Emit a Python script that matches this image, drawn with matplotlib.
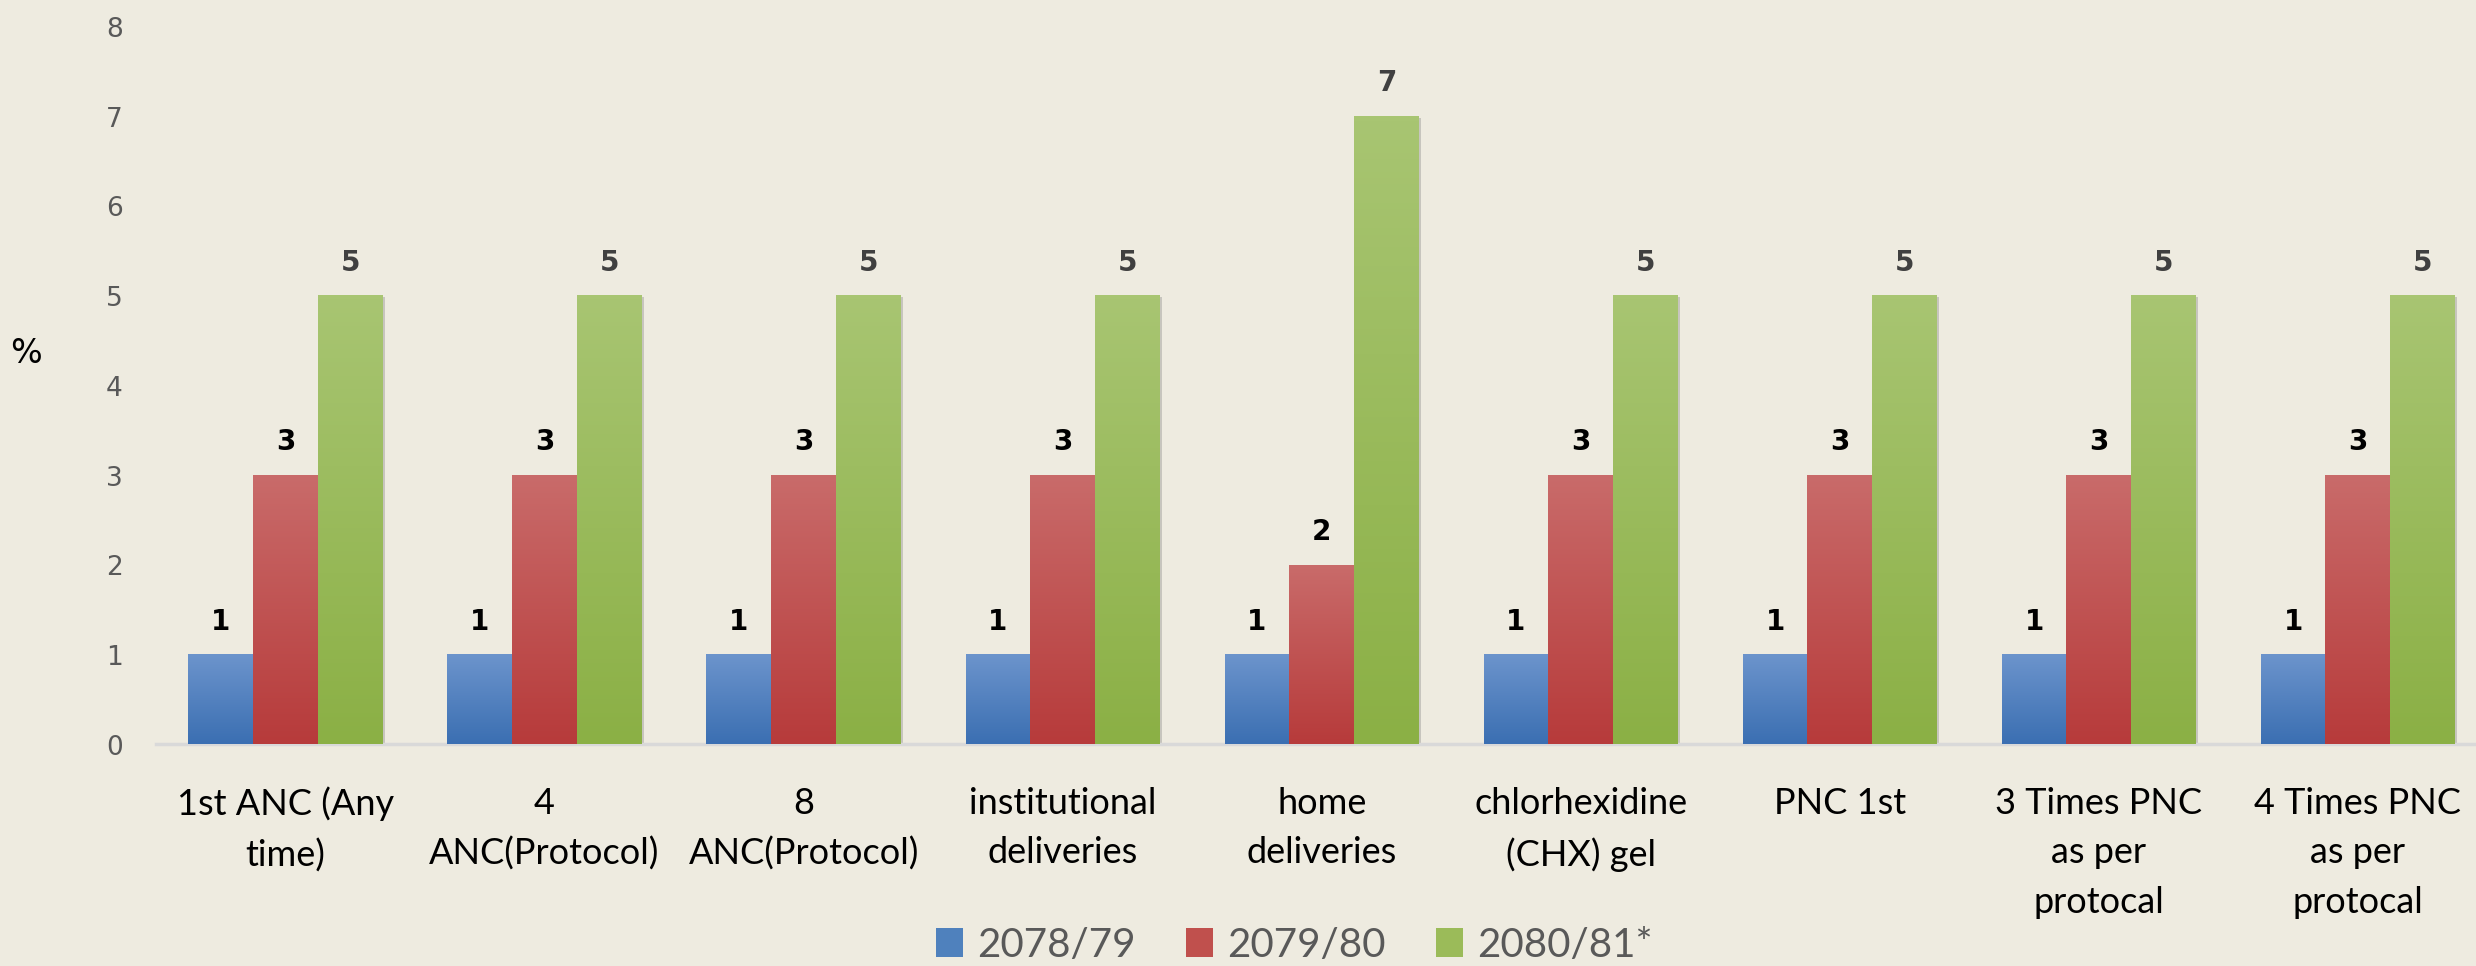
import numpy as np
import matplotlib
matplotlib.use('Agg')
import matplotlib.pyplot as plt
from matplotlib.patches import Patch
from matplotlib.colors import LinearSegmentedColormap
import matplotlib.patheffects as pe

# chart data
categories = ['1st ANC (Any\ntime)', '4\nANC(Protocol)', '8\nANC(Protocol)',
              'institutional\ndeliveries', 'home\ndeliveries', 'chlorhexidine\n(CHX) gel',
              'PNC 1st', '3 Times PNC\nas per\nprotocal', '4 Times PNC\nas per\nprotocal']
series_names = ['2078/79', '2079/80', '2080/81*']
vals_2078 = [1, 1, 1, 1, 1, 1, 1, 1, 1]
vals_2079 = [3, 3, 3, 3, 2, 3, 3, 3, 3]
vals_2080 = [5, 5, 5, 5, 7, 5, 5, 5, 5]

# (top, bottom) gradient colours per series
grads = [('#6C94CC', '#3B6FB2'), ('#C96B6A', '#B73B3B'), ('#A8C572', '#8BB045')]
mids = ['#4F81BD', '#C0504D', '#9BBB59']
label_cols = ['black', 'black', '#404040']
bg = '#EEEBE0'

W, H = 2476, 967
fig = plt.figure(figsize=(W / 100, 9.669), dpi=100, facecolor=bg)
ax = fig.add_axes([156 / W, 1 - 745 / H, 1 - 156 / W, (745 - 27) / H])
ax.set_facecolor(bg)

x = np.arange(len(categories))
bw = 0.25
shadow = [pe.SimplePatchShadow(offset=(1.5, -1.5), shadow_rgbFace='#7f7f7f', alpha=0.35), pe.Normal()]

for k, vals in enumerate([vals_2078, vals_2079, vals_2080]):
    bars = ax.bar(x + (k - 1) * bw, vals, width=bw, color=mids[k], zorder=2)
    cmap = LinearSegmentedColormap.from_list('g%d' % k, [grads[k][1], grads[k][0]])
    for b, v in zip(bars, vals):
        b.set_path_effects(shadow)
        x0, y0 = b.get_x(), b.get_y()
        im = ax.imshow(np.linspace(0, 1, 100).reshape(-1, 1), cmap=cmap, origin='lower',
                       extent=[x0, x0 + b.get_width(), y0, y0 + b.get_height()],
                       aspect='auto', zorder=3)
        im.set_clip_path(b)
        ax.annotate(str(v), (b.get_x() + b.get_width() / 2, v), xytext=(0, 24),
                    textcoords='offset points', ha='center', va='center',
                    fontsize=20, fontweight='bold', color=label_cols[k],
                    family='DejaVu Sans', zorder=4)

ax.set_xlim(-0.5, 8.456)
ax.set_ylim(0, 8)
ax.set_yticks(range(0, 9))
ax.tick_params(axis='y', length=0, pad=24, labelsize=19, labelcolor='#595959')
ax.set_xticks(x)
ax.set_xticklabels(categories, fontsize=26, family='Lato', linespacing=1.62)
ax.tick_params(axis='x', length=0, pad=30, labelcolor='black')

for s in ['top', 'right', 'left']:
    ax.spines[s].set_visible(False)
ax.spines['bottom'].set_color('#D9D9D9')
ax.spines['bottom'].set_linewidth(2.5)

fig.text(26 / W, 1 - 354 / H, '%', fontsize=24, ha='center', va='center')

handles = [Patch(facecolor=mids[k], label=series_names[k]) for k in range(3)]
leg = fig.legend(handles=handles, loc='center', bbox_to_anchor=(0.5226, 1 - 946 / H),
                 ncol=3, frameon=False, handlelength=0.67, handleheight=0.7,
                 handletextpad=0.35, columnspacing=1.25, prop={'family': 'Lato', 'size': 29})
for t in leg.get_texts():
    t.set_color('#595959')

fig.savefig('out.png', dpi=100, facecolor=bg)
